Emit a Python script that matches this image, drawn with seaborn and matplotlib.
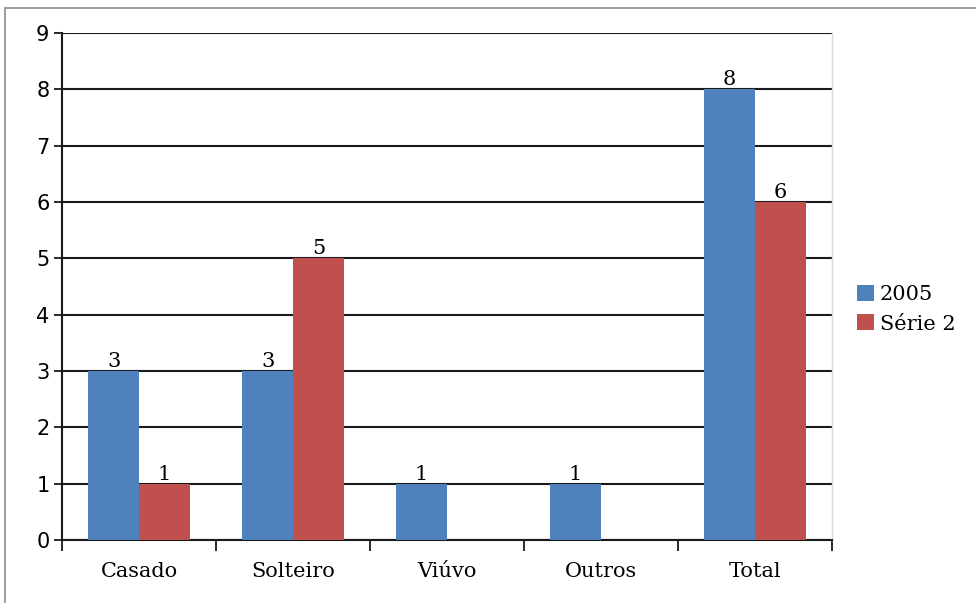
import numpy as np
import pandas as pd
import seaborn as sns
from matplotlib import pyplot as plt
from matplotlib.patches import Rectangle

categorias = ["Casado", "Solteiro", "Viúvo", "Outros", "Total"]
serie_2005 = [3, 3, 1, 1, 8]
serie_2 = [1, 5, np.nan, np.nan, 6]
nomes_series = ["2005", "Série 2"]
cores = ["#4F81BD", "#C0504D"]

df = pd.DataFrame({
    "categoria": categorias * 2,
    "valor": serie_2005 + serie_2,
    "serie": [nomes_series[0]] * 5 + [nomes_series[1]] * 5,
})

sns.set_style("white")
plt.rcParams['font.family'] = ['DejaVu Serif']
plt.rcParams['text.color'] = "black"

fig = plt.figure(figsize=(9.76, 6.03), dpi=100)
ax = fig.add_axes([0.0635, 0.1045, 0.789, 0.841])

# moldura cinza do gráfico
fig.patches.append(Rectangle((5 / 976, -0.1), 1.2, 1 - 8 / 603 + 0.1,
                             transform=fig.transFigure, fill=False,
                             edgecolor="#8c8c8c", linewidth=1.2, zorder=0))

sns.barplot(data=df, x="categoria", y="valor", hue="serie",
            palette=cores, width=0.66, saturation=1, ax=ax, zorder=3,
            edgecolor="none", linewidth=0)

# Rótulos dos valores
for cont in ax.containers:
    labels = ["" if np.isnan(v) else f"{v:.0f}" for v in cont.datavalues]
    ax.bar_label(cont, labels=labels, padding=0, fontsize=15, color="black")

ax.set_ylim(0, 9)
ax.set_xlim(-0.5, 4.5)
ax.set_yticks(range(0, 10))
ax.yaxis.grid(True, color="#1a1a1a", linewidth=1.5)
ax.set_axisbelow(True)
ax.tick_params(axis="y", left=True, length=6, width=1.3, color="#1a1a1a",
               labelsize=15, pad=3, labelcolor="black")
for t in ax.get_yticklabels():
    t.set_family("DejaVu Sans")

ax.set_xticks(np.arange(-0.5, 5, 1), minor=False)
ax.set_xticklabels([])
ax.set_xticks(range(5), minor=True)
ax.set_xticklabels(categorias, minor=True, fontsize=15, color="black")
ax.tick_params(axis="x", which="major", bottom=True, length=8, width=1.3,
               color="#1a1a1a")
ax.tick_params(axis="x", which="minor", bottom=False, pad=14)

ax.set_xlabel("")
ax.set_ylabel("")

for s in ["left", "bottom"]:
    ax.spines[s].set_color("#1a1a1a")
    ax.spines[s].set_linewidth(1.5)
ax.spines["top"].set_visible(False)
ax.spines["right"].set_color("#d9d9d9")
ax.spines["right"].set_linewidth(1)

leg = ax.legend(loc="center left", bbox_to_anchor=(1.0, 0.455), frameon=False,
                fontsize=15, handlelength=0.8, handleheight=0.8,
                handletextpad=0.3, labelspacing=0.5, borderaxespad=0.8)
for t in leg.get_texts():
    t.set_color("black")

fig.savefig("out.png", dpi=100)
